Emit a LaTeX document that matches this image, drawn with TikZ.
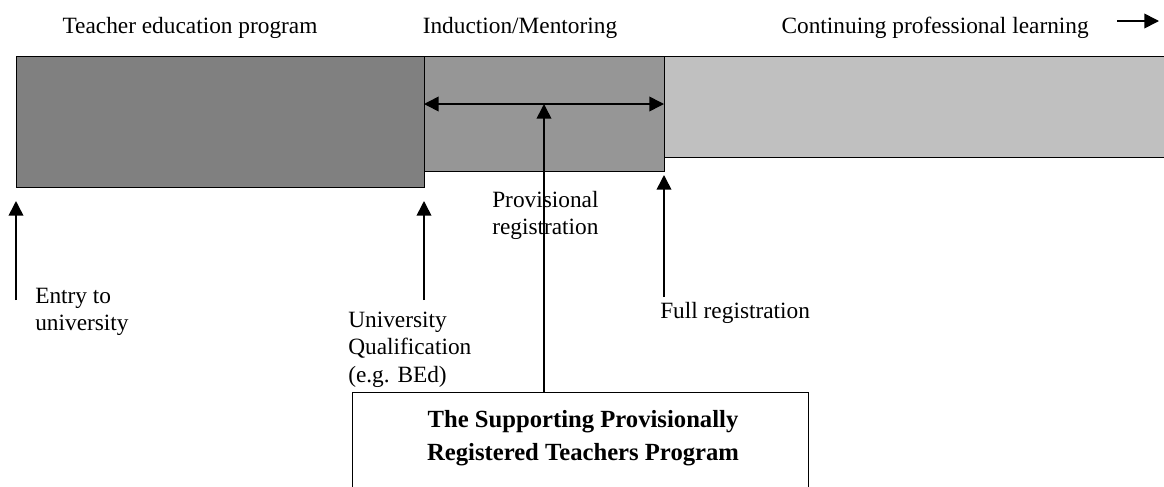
\documentclass[tikz,border=0pt]{standalone}
\usepackage{fontspec}
\setmainfont{Liberation Serif}
\usetikzlibrary{arrows.meta}
\definecolor{barA}{HTML}{808080}
\definecolor{barB}{HTML}{969696}
\definecolor{barC}{HTML}{C0C0C0}
\begin{document}
\begin{tikzpicture}[x=0.75pt,y=-0.75pt,
  bar/.style={draw=black,line width=1.1pt,inner sep=0pt,anchor=north west},
  arr/.style={line width=1.2pt,-{Triangle[length=11pt,width=11pt]}},
  darr/.style={line width=1.2pt,{Triangle[length=11pt,width=11pt]}-{Triangle[length=11pt,width=11pt]}},
  lbl/.style={inner sep=0pt,font=\fontsize{17.5}{20.8}\selectfont},
  ttl/.style={inner sep=0pt,font=\bfseries\fontsize{18.5}{24.75}\selectfont}]
\useasboundingbox (0,0) rectangle (1164,486);
\clip (0,0) rectangle (1164,486);
\fill[white] (0,0) rectangle (1164,486);
% bars
\node[bar,fill=barA,minimum width=306pt,minimum height=98.25pt] (b1) at (16,56) {};
\node[bar,fill=barB,minimum width=180pt,minimum height=86.25pt] (b2) at (424,56) {};
\node[bar,fill=barC,minimum width=400pt,minimum height=75.75pt] (b3) at (664,56) {};
% top labels
\node[lbl,anchor=base] (t1) at (190,33) {Teacher education program};
\node[lbl,anchor=base] (t2) at (520,33) {Induction/Mentoring};
\node[lbl,anchor=base east] (t3) at (1089,33) {Continuing professional learning};
\coordinate (ta) at (1117,21);
\coordinate (tb) at (1159,21);
\draw[arr] (ta) -- (tb);
% double arrow in induction bar
\coordinate (dl) at (424,104);
\coordinate (dr) at (664,104);
\coordinate (dm) at (544,104);
\draw[darr] (dl) -- (dr);
% milestone arrows
\coordinate (e0) at (16,300);
\coordinate (e1) at (16,201);
\draw[arr] (e0) -- (e1);
\coordinate (u0) at (424,300);
\coordinate (u1) at (424,201);
\draw[arr] (u0) -- (u1);
\coordinate (f0) at (664,297);
\coordinate (f1) at (664,175);
\draw[arr] (f0) -- (f1);
% milestone labels
\node[lbl,anchor=base west] (le) at (35,303) {\begin{tabular}[t]{@{}l@{}}Entry to\\ university\end{tabular}};
\node[lbl,anchor=base west] (lp) at (492,207) {\begin{tabular}[t]{@{}l@{}}Provisional\\ registration\end{tabular}};
\node[lbl,anchor=base west] (lu) at (348,327) {\begin{tabular}[t]{@{}l@{}}University\\ Qualification\\ (e.g. BEd)\end{tabular}};
\node[lbl,anchor=base west] (lf) at (660,318) {Full registration};
% program box
\node[draw=black,line width=1.1pt,inner sep=0pt,anchor=north west,fill=white,minimum width=342pt,minimum height=110pt] (sp) at (352,392) {};
\node[ttl,anchor=base] (spt) at (583,427) {\begin{tabular}[t]{@{}c@{}}The Supporting Provisionally\\ Registered Teachers Program\end{tabular}};
\coordinate (sv) at (544,392);
\draw[arr] (sv) -- (dm);
\end{tikzpicture}
\end{document}
